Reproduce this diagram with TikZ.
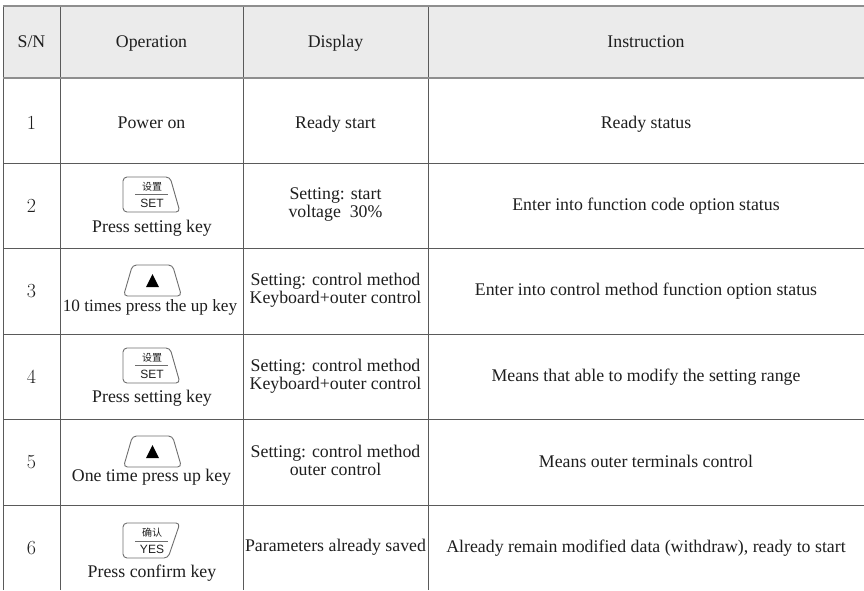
\documentclass[tikz,border=0pt]{standalone}
\usepackage{fontspec}
\newfontfamily\tnr{Liberation Serif}
\newfontfamily\keysans{Liberation Sans}
\newfontfamily\cjk{Noto Sans CJK SC}
\definecolor{ink}{HTML}{1E1E1E}
\definecolor{gridgray}{HTML}{5A5A5A}
\definecolor{headfill}{HTML}{EBEBEB}
\definecolor{headrule}{HTML}{8E8E8E}
\definecolor{keygray}{HTML}{6E6E6E}
\tikzset{
  grid/.style={draw=gridgray, line width=0.9pt},
  headline/.style={draw=headrule, line width=1.8pt},
  txt/.style={font=\tnr\fontsize{17.8}{18}\selectfont, text=ink, inner sep=0pt,
    align=center, text height=12pt, text depth=4pt},
  num/.style={font=\fontsize{20}{22}\selectfont, text=ink, inner sep=0pt},
  keyline/.style={draw=keygray, line width=0.9pt, rounded corners=4pt},
  keycn/.style={font=\cjk\fontsize{10}{10}\selectfont, text=ink, inner sep=0pt},
  keyen/.style={font=\keysans\fontsize{12}{12}\selectfont, text=ink, inner sep=0pt},
  setkey/.pic={
    \draw[keyline] (0,0) -- (47,0) -- (57,35) -- (0,35) -- cycle;
    \draw[keygray, line width=0.8pt] (12,17.5) -- (45,17.5);
    \node[keycn] (-cn) at (29,9.5) {设置};
    \node[keyen] (-en) at (29,26.5) {SET};
  },
  yeskey/.pic={
    \draw[keyline] (0,0) -- (57,0) -- (45,35) -- (0,35) -- cycle;
    \draw[keygray, line width=0.8pt] (12,18) -- (45,18);
    \node[keycn] (-cn) at (29,10) {确认};
    \node[keyen] (-en) at (29,26.5) {YES};
  },
  upkey/.pic={
    \draw[keyline] (-20,0) -- (20,0) -- (29,31) -- (-29,31) -- cycle;
    \fill[black] (-6.5,22) -- (6.5,22) -- (0,9) -- cycle;
  }
}
\begin{document}
\begin{tikzpicture}[x=1pt,y=-1pt]
  \useasboundingbox (0,0) rectangle (864,590);
  % header band
  \fill[headfill] (3,6) rectangle (864,78);
  % grid
  \foreach \yy in {163,248,334,419,505}
    \draw[grid] (3,\yy) -- (864,\yy);
  \foreach \xx in {3,60,243,428}
    \draw[grid] (\xx,6) -- (\xx,590);
  \draw[headline] (3,6) -- (864,6);
  \draw[headline] (3,78) -- (864,78);

  % header
  \node[txt] (hsn) at (31.5,43.5) {S/N};
  \node[txt] (hop) at (151.5,43.5) {Operation};
  \node[txt] (hdi) at (335.5,43.5) {Display};
  \node[txt] (hin) at (646,43.5) {Instruction};

  % row 1
  \node[num] (n1) at (31.5,123) {1};
  \node[txt] (op1) at (151.5,124) {Power on};
  \node[txt] (di1) at (335.5,124) {Ready start};
  \node[txt] (in1) at (646,124) {Ready status};

  % row 2
  \node[num] (n2) at (31.5,206) {2};
  \pic (k2) at (123,177) {setkey};
  \node[txt] (op2) at (152,228) {Press setting key};
  \node[txt] (di2) at (335.5,213) {Setting: start\\voltage~~30\%};
  \node[txt] (in2) at (646,206) {Enter into function code option status};

  % row 3
  \node[num] (n3) at (31.5,291) {3};
  \pic (k3) at (152.5,265) {upkey};
  \node[txt, font=\tnr\fontsize{17.2}{18}\selectfont] (op3) at (150,307) {10 times press the up key};
  \node[txt] (di3) at (335.5,299) {Setting: control method\\Keyboard+outer control};
  \node[txt] (in3) at (646,291) {Enter into control method function option status};

  % row 4
  \node[num] (n4) at (31.5,377) {4};
  \pic (k4) at (123,348) {setkey};
  \node[txt] (op4) at (152,398) {Press setting key};
  \node[txt] (di4) at (335.5,385) {Setting: control method\\Keyboard+outer control};
  \node[txt] (in4) at (646,377) {Means that able to modify the setting range};

  % row 5
  \node[num] (n5) at (31.5,462) {5};
  \pic (k5) at (152.5,436) {upkey};
  \node[txt] (op5) at (151.5,477) {One time press up key};
  \node[txt] (di5) at (335.5,471) {Setting: control method\\outer control};
  \node[txt] (in5) at (646,463) {Means outer terminals control};

  % row 6
  \node[num] (n6) at (31.5,548) {6};
  \pic (k6) at (123,523) {yeskey};
  \node[txt] (op6) at (152,573) {Press confirm key};
  \node[txt] (di6) at (335.5,547) {Parameters already saved};
  \node[txt] (in6) at (646,548) {Already remain modified data (withdraw), ready to start};
\end{tikzpicture}
\end{document}
